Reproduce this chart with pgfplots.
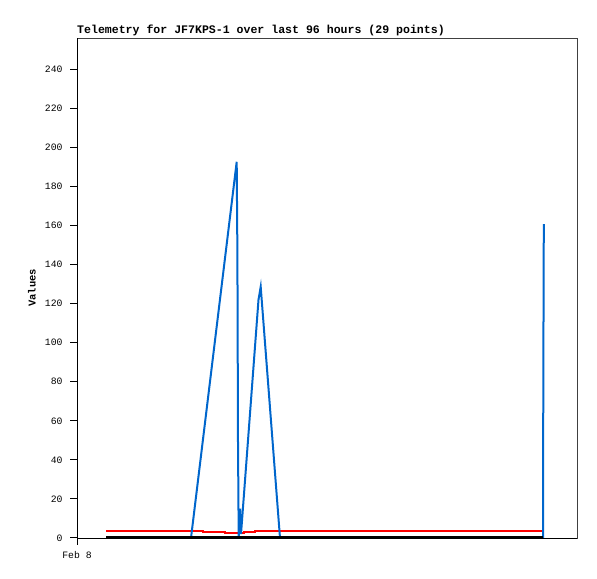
\documentclass[border=0pt]{standalone}
\usepackage{fontspec}
\setmainfont{Liberation Mono}
\setmonofont{Liberation Mono}
\usepackage{pgfplots}
\pgfplotsset{compat=1.18}
\definecolor{tblue}{RGB}{0,102,204}
\begin{document}
\begin{tikzpicture}[x=1bp,y=1bp]
\useasboundingbox (0,0) rectangle (597,579);
\begin{axis}[
  at={(77bp,41bp)}, anchor=south west,
  scale only axis, width=500bp, height=500bp,
  xmin=0, xmax=500, ymin=0, ymax=256,
  ytick={0,20,...,240}, xtick={0}, xticklabels={Feb 8},
  tick align=outside, major tick length=7bp,
  axis line style={black!75},
  tick style={black, line width=1bp},
  ticklabel style={font=\fontsize{9.8}{11}\selectfont},
  yticklabel style={xshift=-4bp},
  xticklabel style={yshift=-3bp},
  /pgf/number format/assume math mode=true,
  clip=false,
  axis x line*=bottom, axis y line*=left,
]
\addplot[red, line width=2bp] coordinates {(29,3.7) (126,3.7) (126,3.1) (148,3.1) (148,2.6) (167,2.6) (167,3.1) (178,3.1) (178,3.7) (466,3.7)};
\addplot[tblue, line width=2bp] coordinates {(29,0) (114,0) (159.7,192.6) (160.4,145) (161,48.6) (161.7,0) (163,15) (164,2) (181.5,122) (183.7,128.6) (203,0) (466,0) (466.3,80) (466.8,160.7)};
\addplot[black, line width=3bp] coordinates {(29,0) (466,0)};
\end{axis}
\draw[black!75] (77,41) rectangle (577,541);
\draw[black] (77,41) -- (577,41);
\draw[black] (77,41) -- (77,541);
\node[anchor=base west, inner sep=0, font=\fontsize{11.6}{13}\selectfont\bfseries] at (77,545) {Telemetry for JF7KPS-1 over last 96 hours (29 points)};
\node[rotate=90, inner sep=0, font=\fontsize{10.5}{12}\selectfont\bfseries] at (32,291) {Values};
\end{tikzpicture}
\end{document}
